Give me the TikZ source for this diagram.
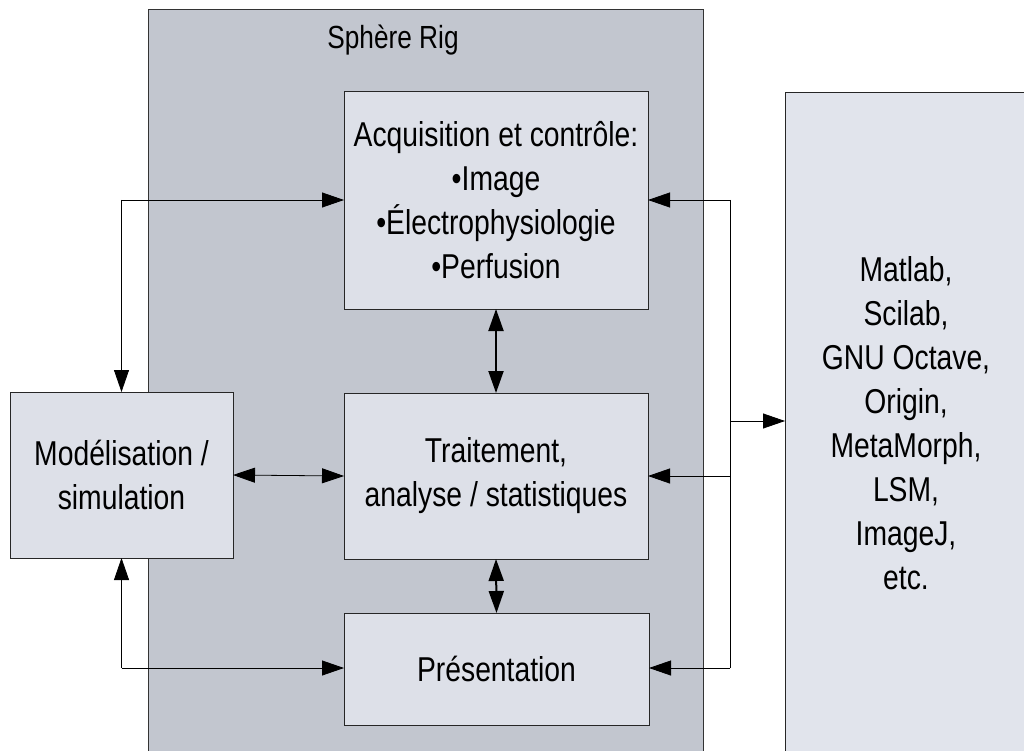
\documentclass[tikz,border=0pt]{standalone}
\usepackage{fontspec}
\setmainfont{Liberation Sans}[FakeStretch=0.82]
\usetikzlibrary{arrows.meta}
\definecolor{riggray}{HTML}{C2C6CF}
\definecolor{boxfill}{HTML}{DDE0E8}
\definecolor{panelfill}{HTML}{E1E4EC}
\begin{document}
\begin{tikzpicture}[x=1pt,y=-1pt, font=\fontsize{34.5}{44}\selectfont,
  box/.style={draw=black!85, line width=0.8pt, fill=boxfill, inner sep=0pt, outer sep=0pt, align=center},
  conn/.style={line width=0.8pt, -{Triangle[length=22pt,width=15pt]}},
  biconn/.style={line width=2pt, {Triangle[length=22pt,width=15pt]}-{Triangle[length=22pt,width=15pt]}},
  thinbi/.style={line width=0.8pt, {Triangle[length=22pt,width=15pt]}-{Triangle[length=22pt,width=15pt]}},
  plain/.style={line width=0.8pt}]
\useasboundingbox (0,0) rectangle (1024,751);
\fill[white] (0,0) rectangle (1024,751);
% Sphere Rig area
\node[fill=riggray, draw=black!80, line width=0.8pt, minimum width=555pt, minimum height=745pt, inner sep=0pt, outer sep=0pt, anchor=north west] (rig) at (148,9) {};
\node[font=\fontsize{32}{40}\selectfont] (title) at (393,40) {Sphère Rig};
% boxes
\node[box, minimum width=304pt, minimum height=218pt] (acq) at (496,200)
  {Acquisition et contrôle:\\\textbullet Image\\\textbullet Électrophysiologie\\\textbullet Perfusion};
\node[box, minimum width=304pt, minimum height=166pt] (trt) at (496,476)
  {Traitement,\\analyse / statistiques};
\node[box, minimum width=305pt, minimum height=112pt] (pres) at (496.5,669) {Présentation};
\node[box, minimum width=223pt, minimum height=166pt] (mod) at (121.5,475)
  {Modélisation /\\simulation};
\node[box, fill=panelfill, minimum width=242pt, minimum height=662pt, anchor=north west] (tools) at (785,92)
  {Matlab,\\Scilab,\\GNU Octave,\\Origin,\\MetaMorph,\\LSM,\\ImageJ,\\etc.};
% connector corners
\coordinate (lt) at (121.5,200);
\coordinate (lb) at (121.5,668);
\coordinate (rt) at (730,200);
\coordinate (rb) at (730,668);
\coordinate (rm) at (730,421);
% left loop
\draw[conn] (lt) -- (mod.north);
\draw[conn] (lt) -- (acq.west |- lt);
\draw[conn] (lb) -- (mod.south);
\draw[conn] (lb) -- (pres.west |- lb);
% right loop
\draw[plain] (rt) -- (rb);
\draw[conn] (rt) -- (acq.east |- rt);
\draw[conn] (trt.east -| rt) -- (trt.east);
\draw[conn] (rb) -- (pres.east |- rb);
\draw[conn] (rm) -- (tools.west |- rm);
% middle
\draw[biconn] (acq.south) -- (trt.north);
\draw[biconn] (trt.south) -- (pres.north);
\draw[thinbi] (mod.east) -- (trt.west);
\end{tikzpicture}
\end{document}
